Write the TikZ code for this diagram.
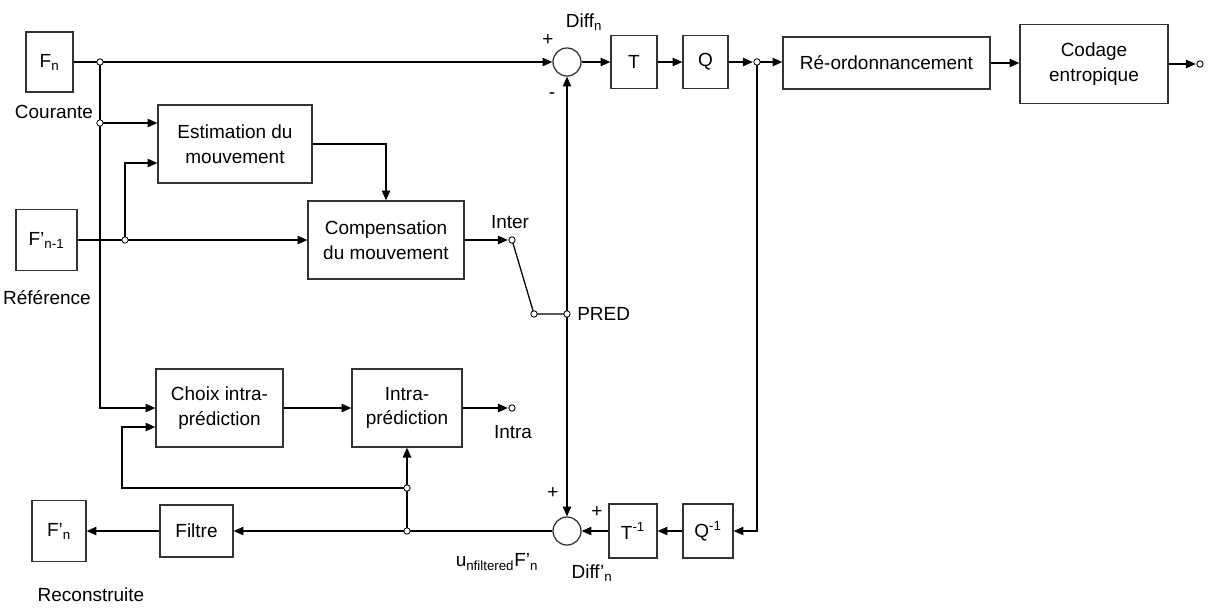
\documentclass[tikz,border=0pt]{standalone}
\usepackage{fontspec}
\setmainfont{Liberation Sans}
\usetikzlibrary{arrows.meta,positioning,calc}

\tikzset{
  block/.style={draw=black!80, line width=0.9pt, rectangle, align=center, inner sep=0pt},
  sum/.style={draw=black!80, line width=0.9pt, circle, minimum size=0.7cm, inner sep=0pt},
  arr/.style={line width=0.9pt, -{Triangle[length=7pt,width=6pt]}},
  wire/.style={line width=0.9pt},
  lbl/.style={inner sep=0pt},
}

\begin{document}
\begin{tikzpicture}[x=0.025cm, y=-0.025cm,
    every node/.append style={font=\fontsize{13.5}{17.5}\selectfont}]
    \useasboundingbox (0,0) rectangle (1208,608);

    % Frames (current, reference, rebuilt)
    \node[block, minimum width=1.175cm, minimum height=1.5cm] (Fn) at (49.5,62) {F\textsubscript{n}};
    \node[block, minimum width=1.525cm, minimum height=1.525cm] (Fp) at (46.5,240) {F'\textsubscript{n-1}};
    \node[block, minimum width=1.35cm, minimum height=1.525cm] (Rn) at (59,531) {F'\textsubscript{n}};

    % Prediction blocks
    \node[block, minimum width=3.85cm, minimum height=1.95cm] (Est) at (235,144) {Estimation du\\mouvement};
    \node[block, minimum width=3.9cm, minimum height=1.95cm] (Comp) at (386,240) {Compensation\\du mouvement};
    \node[block, minimum width=3.175cm, minimum height=1.95cm] (Choix) at (219.5,408) {Choix intra-\\prédiction};
    \node[block, minimum width=2.75cm, minimum height=1.95cm] (IntraP) at (407,408) {Intra-\\prédiction};
    \node[block, minimum width=1.825cm, minimum height=1.3cm] (Filtre) at (196.5,531) {Filtre};

    % Forward and inverse chains
    \node[sum] (S1) at (567,62) {};
    \node[block, minimum width=1.15cm, minimum height=1.325cm] (T) at (634,62) {T};
    \node[block, minimum width=1.125cm, minimum height=1.325cm] (Q) at (705.5,62) {Q};
    \node[block, minimum width=5.175cm, minimum height=1.3cm] (Reord) at (886.5,63) {Ré-ordonnancement};
    \node[block, minimum width=3.7cm, minimum height=1.975cm] (Codage) at (1094,64) {Codage\\entropique};
    \node[sum] (S2) at (567,531) {};
    \node[block, minimum width=1.2cm, minimum height=1.35cm] (Tinv) at (633,531) {T\textsuperscript{-1}};
    \node[block, minimum width=1.25cm, minimum height=1.35cm] (Qinv) at (708,531) {Q\textsuperscript{-1}};

    % Junctions and terminals
    \coordinate (j1) at (100,62);
    \coordinate (j2) at (100,123);
    \coordinate (j3) at (125,240);
    \coordinate (jq) at (757,62);
    \coordinate (j4) at (407,531);
    \coordinate (j5) at (407,488);
    \coordinate (fb) at (122,488);
    \coordinate (inter) at (512,240);
    \coordinate (swA) at (534,314);
    \coordinate (pred) at (567,314);
    \coordinate (intra) at (512,408);
    \coordinate (out) at (1200,64);

    % Connectors
    \draw[arr] (Fn) -- (S1);
    \draw[arr] (j1) |- (Choix.west);
    \draw[arr] (j2) -- (j2 -| Est.west);
    \draw[arr] (Fp) -- (Comp);
    \draw[arr] (j3) |- ($(Est.west)+(0,19)$);
    \draw[arr] (Est.east) -| (Comp.north);
    \draw[arr, shorten >=3pt] (Comp) -- (inter);
    \draw[wire] (inter) -- (swA) -- (pred);
    \draw[arr] (pred) -- (S1);
    \draw[arr] (pred) -- (S2);
    \draw[arr] (S1) -- (T);
    \draw[arr] (T) -- (Q);
    \draw[arr, shorten >=3pt] (Q) -- (jq);
    \draw[arr] (jq) -- (jq -| Reord.west);
    \draw[arr] (Reord) -- (Reord -| Codage.west);
    \draw[arr, shorten >=3pt] (Codage) -- (out);
    \draw[arr] (jq) |- (Qinv.east);
    \draw[arr] (Qinv) -- (Tinv);
    \draw[arr] (Tinv) -- (S2);
    \draw[arr] (S2) -- (Filtre);
    \draw[arr] (Filtre) -- (Rn);
    \draw[arr] (j4) -- (IntraP.south);
    \draw[arr] (j5) -- (fb) |- ($(Choix.west)+(0,19)$);
    \draw[arr] (Choix) -- (IntraP);
    \draw[arr, shorten >=3pt] (IntraP) -- (intra);

    % Open dots on top of the wires
    \foreach \c in {j1,j2,j3,jq,j4,j5,inter,swA,pred,intra,out}
        \draw[line width=0.6pt, fill=white] (\c) circle (0.08cm);

    % Labels
    \node[lbl] (lCour) at (54,112) {Courante};
    \node[lbl] (lRef) at (47,298) {Référence};
    \node[lbl] (lRec) at (91,595) {Reconstruite};
    \node[lbl] (lInter) at (510,222) {Inter};
    \node[lbl, anchor=west] (lPred) at (577,314) {PRED};
    \node[lbl] (lIntra) at (513,432) {Intra};
    \node[lbl] (lP1) at (548,40) {+};
    \node[lbl] (lM1) at (552,96) {-};
    \node[lbl] (lDiff) at (584,22) {Diff\textsubscript{n}};
    \node[lbl] (lP2) at (553,493) {+};
    \node[lbl] (lP3) at (597,512) {+};
    \node[lbl] (lDiffp) at (592,573) {Diff'\textsubscript{n}};
    \node[lbl] (lUnf) at (497,562) {u\textsubscript{nfiltered}F'\textsubscript{n}};
\end{tikzpicture}
\end{document}
